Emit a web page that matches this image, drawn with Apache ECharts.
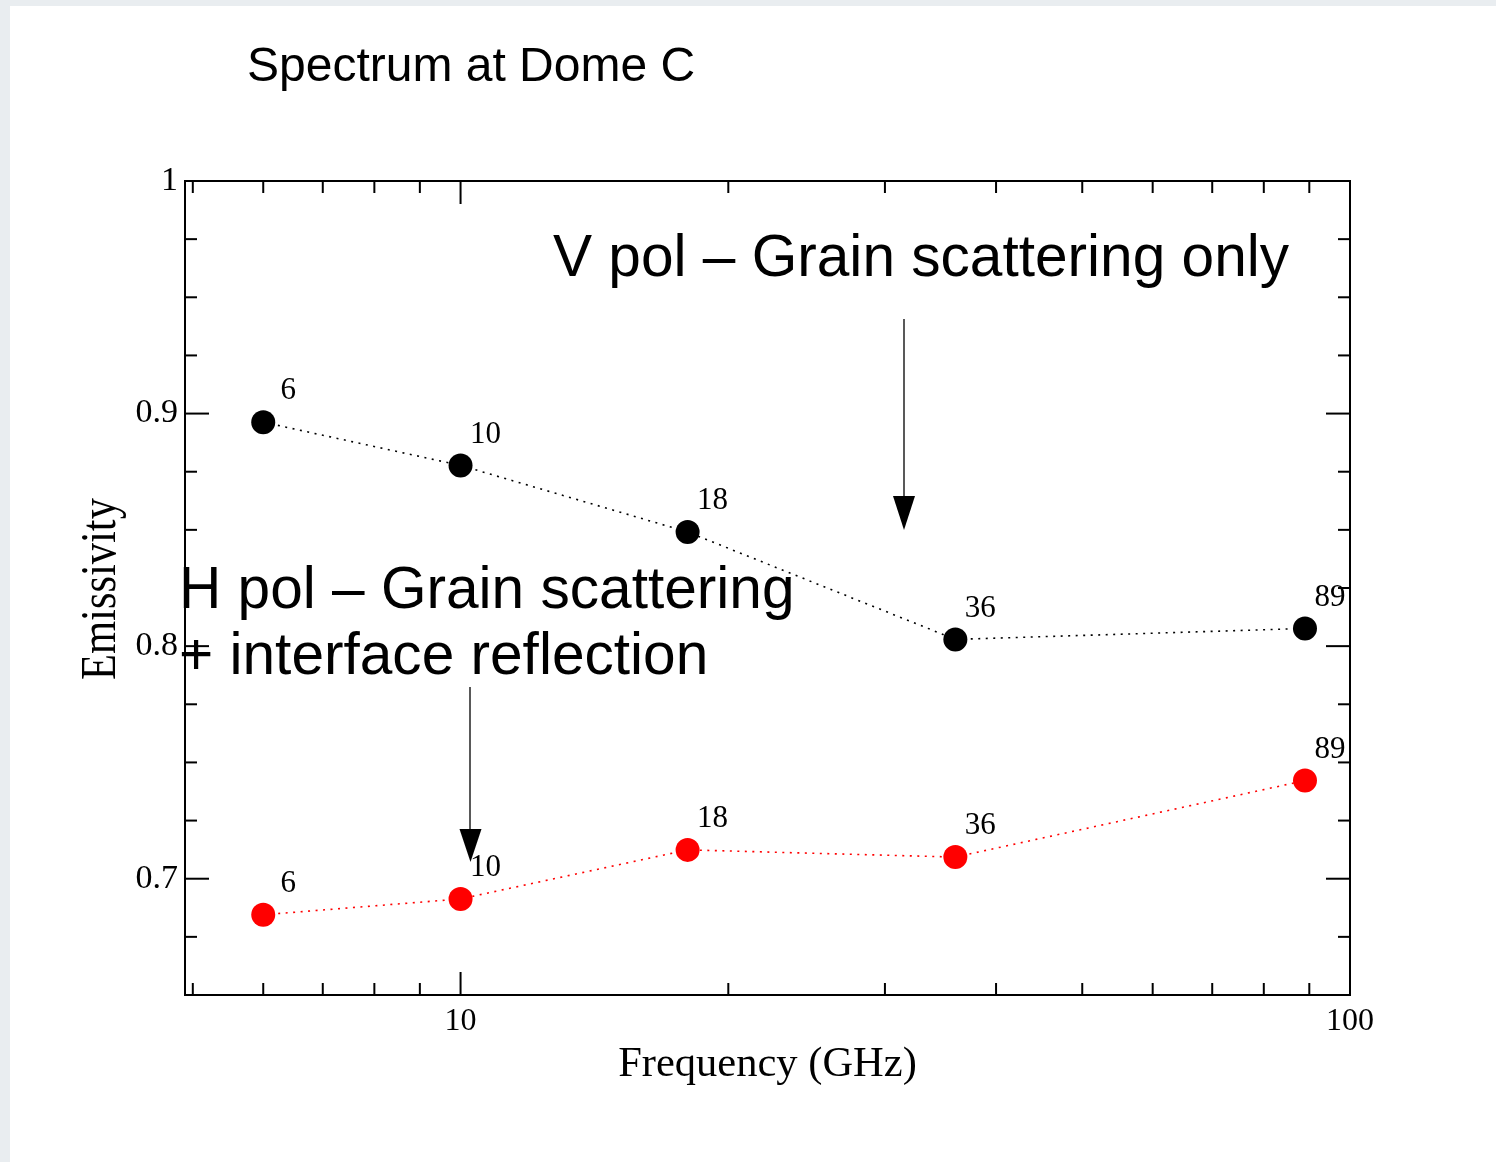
<!DOCTYPE html>
<html>
<head>
<meta charset="utf-8">
<script src="https://cdn.jsdelivr.net/npm/echarts@6/dist/echarts.min.js"></script>
<style>
  html, body { margin: 0; padding: 0; background: #e9edf0; }
  #paper { position: absolute; left: 10px; top: 6px; width: 1486px; height: 1156px; background: #ffffff; }
  #chart { position: absolute; left: 0; top: 0; width: 1496px; height: 1162px; }
</style>
</head>
<body>
<div id="paper"></div>
<div id="chart"></div>
<script>
// ---- data ----
const frequencies = [6, 10, 18, 36, 89];
const freqLabels = ['6', '10', '18', '36', '89'];
const vPol = [0.8963, 0.8777, 0.8491, 0.8029, 0.8076];
const hPol = [0.6845, 0.6913, 0.7124, 0.7093, 0.7422];

const X_MIN = 4.9, X_MAX = 100;
const Y_MIN = 0.65, Y_MAX = 1.0;
const xTickValues = [5, 6, 7, 8, 9, 10, 20, 30, 40, 50, 60, 70, 80, 90];
const xMajorTicks = [10, 100];
const yTickValues = [0.675, 0.7, 0.725, 0.75, 0.775, 0.8, 0.825, 0.85, 0.875, 0.9, 0.925, 0.95, 0.975];
const yMajorTicks = [0.7, 0.8, 0.9, 1.0];

const SERIF = '"Liberation Serif", "Times New Roman", serif';
const SANS = '"Liberation Sans", Arial, sans-serif';

const chart = echarts.init(document.getElementById('chart'), null, { renderer: 'canvas' });

function isMajor(v, list) { return list.some(m => Math.abs(m - v) < 1e-9); }

const tickStyle = { stroke: '#000', lineWidth: 2 };

const option = {
  backgroundColor: 'transparent',
  animation: false,
  grid: { left: 185, right: 146, top: 181, bottom: 167, show: true, borderColor: '#000', borderWidth: 2, backgroundColor: 'transparent' },
  xAxis: {
    type: 'log', logBase: 10, min: X_MIN, max: X_MAX,
    axisLine: { show: true, lineStyle: { color: '#000', width: 2 } },
    axisTick: { show: false }, splitLine: { show: false }, minorTick: { show: false },
    axisLabel: {
      margin: 11, color: '#000', fontFamily: SERIF, fontSize: 32,
      showMinLabel: false,
      formatter: function (v) {
        const l = Math.log10(v);
        return Math.abs(l - Math.round(l)) < 1e-6 ? String(Math.round(v)) : '';
      }
    },
    name: 'Frequency (GHz)', nameLocation: 'middle', nameGap: 43,
    nameTextStyle: { color: '#000', fontFamily: SERIF, fontSize: 42.5 }
  },
  yAxis: {
    type: 'value', min: Y_MIN, max: Y_MAX, interval: 0.05,
    axisLine: { show: true, lineStyle: { color: '#000', width: 2 } },
    axisTick: { show: false }, splitLine: { show: false },
    axisLabel: {
      margin: 7, color: '#000', fontFamily: SERIF, fontSize: 34,
      formatter: function (v) {
        const r = Math.round(v * 100);
        return r % 10 === 0 ? String(Math.round(v * 10) / 10) : '';
      }
    }
  },
  graphic: [
    { type: 'text', left: 247, top: 44, style: { text: 'Spectrum at Dome C', fill: '#000', font: '48px ' + SANS } },
    { type: 'text', x: 553, y: 260, style: { text: 'V pol \u2013 Grain scattering only', fill: '#000', font: '58.6px ' + SANS, verticalAlign: 'middle', align: 'left' }, z: 50 },
    { type: 'text', x: 179, y: 592, style: { text: 'H pol \u2013 Grain scattering', fill: '#000', font: '58.6px ' + SANS, verticalAlign: 'middle', align: 'left' }, z: 50 },
    { type: 'text', x: 179, y: 658, style: { text: '+ interface reflection', fill: '#000', font: '58.6px ' + SANS, verticalAlign: 'middle', align: 'left' }, z: 50 },
    { type: 'line', shape: { x1: 904, y1: 319, x2: 904, y2: 500 }, style: { stroke: '#222', lineWidth: 1.5 }, z: 50 },
    { type: 'polygon', shape: { points: [[893, 496], [915, 496], [904, 530]] }, style: { fill: '#000' }, z: 50 },
    { type: 'line', shape: { x1: 470, y1: 687, x2: 470, y2: 833 }, style: { stroke: '#222', lineWidth: 1.5 }, z: 50 },
    { type: 'polygon', shape: { points: [[459.5, 829], [481.5, 829], [470.5, 862]] }, style: { fill: '#000' }, z: 50 },
    { type: 'text', x: 102, y: 589, rotation: Math.PI / 2, scaleY: 1.2,
      style: { text: 'Emissivity', fill: '#000', font: '42.5px ' + SERIF, align: 'center', verticalAlign: 'middle' } }
  ],
  series: [
    {
      name: 'x ticks', type: 'custom', coordinateSystem: 'cartesian2d', silent: true, clip: false, z: 5,
      data: xTickValues.map(v => [v, Y_MIN]),
      renderItem: function (params, api) {
        const v = api.value(0);
        const x = api.coord([v, Y_MIN])[0];
        const cs = params.coordSys;
        const len = isMajor(v, xMajorTicks) ? 23 : 12;
        const yb = cs.y + cs.height, yt = cs.y;
        return { type: 'group', children: [
          { type: 'line', shape: { x1: x, y1: yb, x2: x, y2: yb - len }, style: tickStyle },
          { type: 'line', shape: { x1: x, y1: yt, x2: x, y2: yt + len }, style: tickStyle }
        ] };
      }
    },
    {
      name: 'y ticks', type: 'custom', coordinateSystem: 'cartesian2d', silent: true, clip: false, z: 5,
      data: yTickValues.map(v => [X_MIN, v]),
      renderItem: function (params, api) {
        const v = api.value(1);
        const y = api.coord([X_MIN, v])[1];
        const cs = params.coordSys;
        const len = isMajor(v, yMajorTicks) ? 24 : 12;
        const xl = cs.x, xr = cs.x + cs.width;
        return { type: 'group', children: [
          { type: 'line', shape: { x1: xl, y1: y, x2: xl + len, y2: y }, style: tickStyle },
          { type: 'line', shape: { x1: xr, y1: y, x2: xr - len, y2: y }, style: tickStyle }
        ] };
      }
    },
    {
      name: 'V pol', type: 'line', z: 10,
      data: frequencies.map((f, i) => [f, vPol[i]]),
      symbol: 'circle', symbolSize: 24,
      itemStyle: { color: '#000' },
      lineStyle: { color: '#000', width: 1.6, type: [2, 5.5] },
      label: { show: true, position: 'inside', offset: [25, -31], color: '#000', fontFamily: SERIF, fontSize: 31,
        formatter: p => freqLabels[p.dataIndex] }
    },
    {
      name: 'H pol', type: 'line', z: 10,
      data: frequencies.map((f, i) => [f, hPol[i]]),
      symbol: 'circle', symbolSize: 24,
      itemStyle: { color: '#ff0000' },
      lineStyle: { color: '#ff0000', width: 1.6, type: [2, 5.5] },
      label: { show: true, position: 'inside', offset: [25, -31], color: '#000', fontFamily: SERIF, fontSize: 31,
        formatter: p => freqLabels[p.dataIndex] }
    }
  ]
};
chart.setOption(option);
</script>
</body>
</html>
